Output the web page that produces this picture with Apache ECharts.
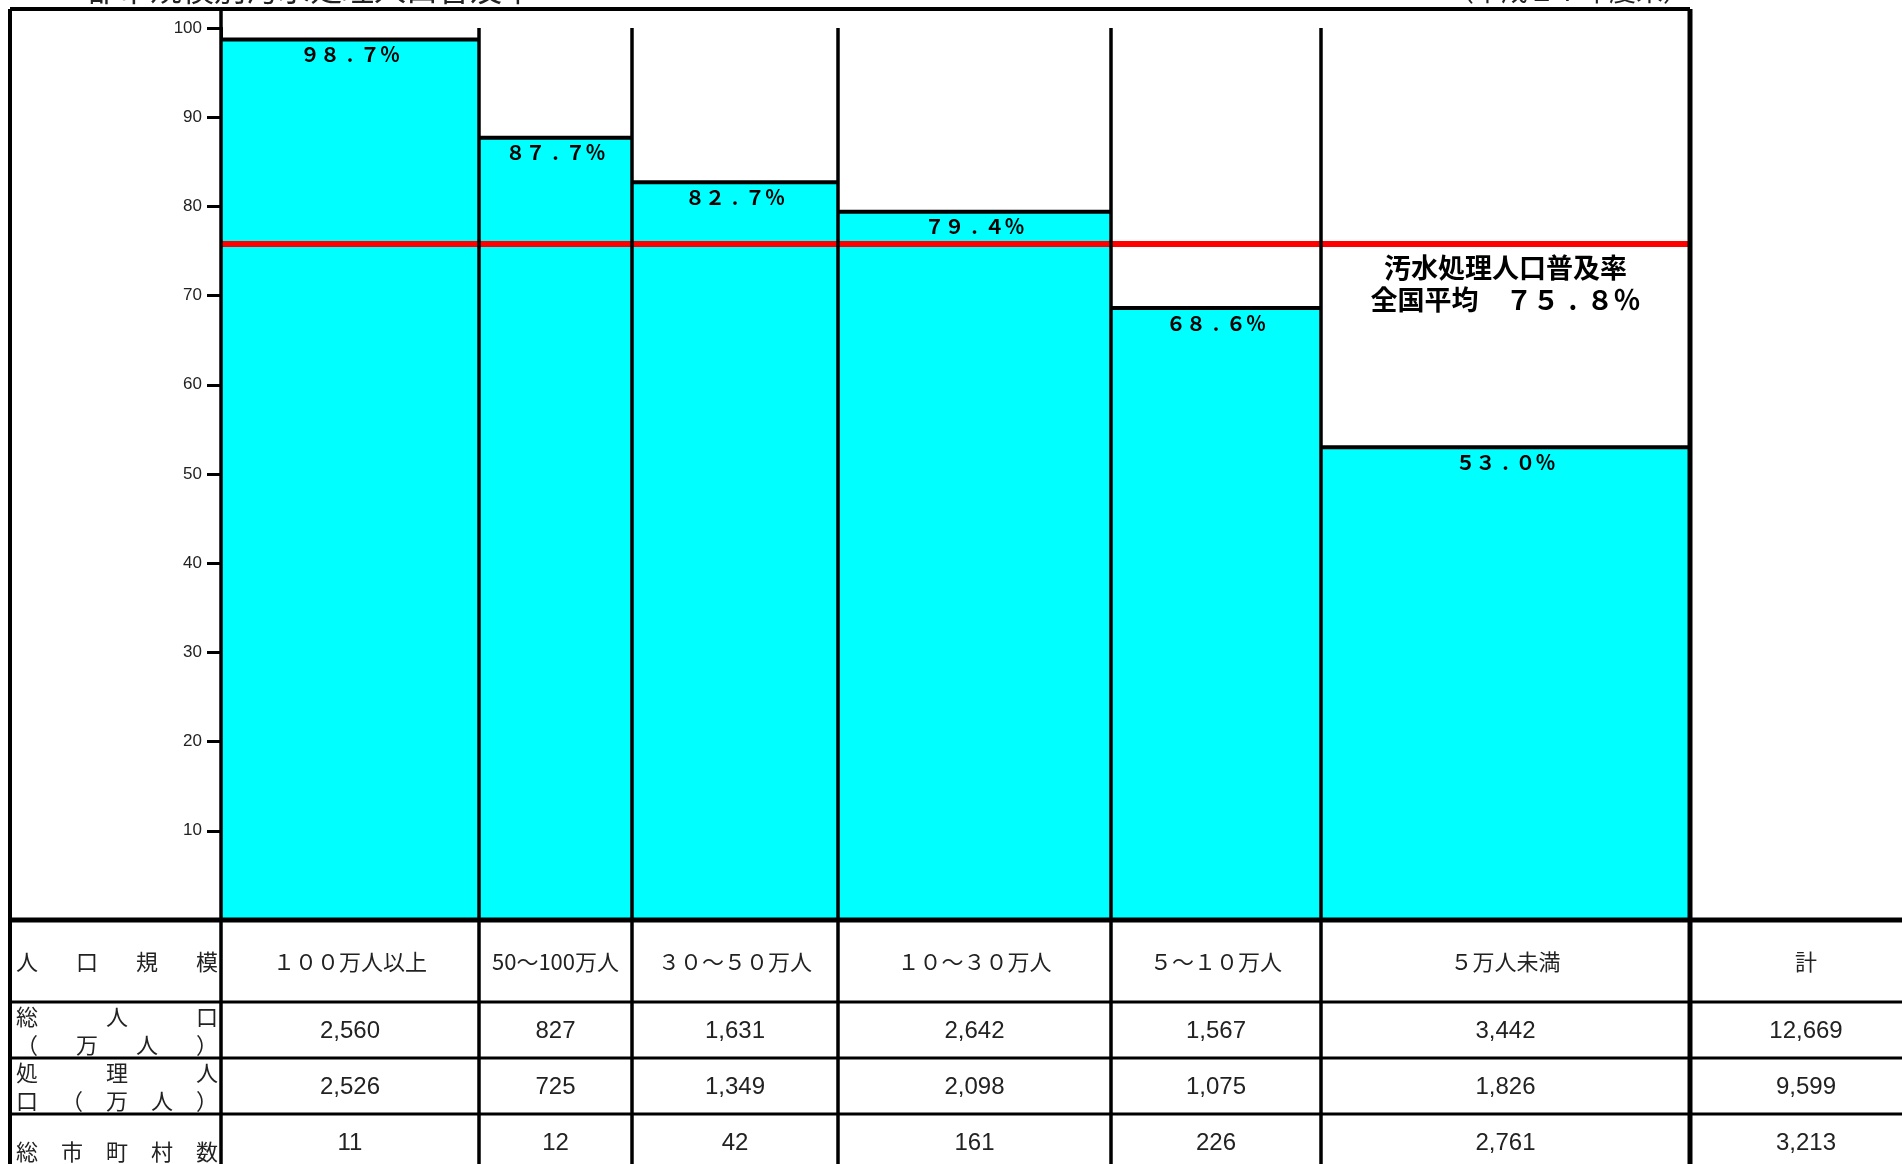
<!DOCTYPE html>
<html>
<head>
<meta charset="utf-8">
<title>都市規模別汚水処理人口普及率</title>
<script src="https://cdn.jsdelivr.net/npm/echarts@6/dist/echarts.min.js"></script>
<style>
  html, body { margin: 0; padding: 0; background: #fff; }
  #main { width: 1902px; height: 1164px; }
</style>
</head>
<body>
<div id="main"></div>
<script>
// 人口規模ごとの数値（平成17年度末）
const sizeLabels = ['１００万人以上', '50～100万人', '３０～５０万人', '１０～３０万人', '５～１０万人', '５万人未満', '計'];
const rates = [98.7, 87.7, 82.7, 79.4, 68.6, 53.0];
const avgRate = 75.8;
const totalPop = [2560, 827, 1631, 2642, 1567, 3442, 12669];
const servedPop = [2526, 725, 1349, 2098, 1075, 1826, 9599];
const municipalities = [11, 12, 42, 161, 226, 2761, 3213];
const yTicks = [0, 10, 20, 30, 40, 50, 60, 70, 80, 90, 100];

// 表の行見出し（1行または2行）
const rowHeads = [
  ['人口規模'],
  ['総人口', '（万人）'],
  ['処理人', '口（万人）'],
  ['総市町村数']
];

// レイアウト（列の幅はピクセル相当の単位）
const colWidths = [258, 153, 206, 273, 210, 369];
const totalColWidth = 232;

const CJK = '"Noto Sans CJK JP", "Noto Sans CJK SC", sans-serif';
const NUM = '"Liberation Sans", Arial, sans-serif';

function toFull(s) {
  return String(s).replace(/[0-9]/g, c => String.fromCharCode(c.charCodeAt(0) + 0xFEE0));
}
// 小数点を中央に置いた全角風のパーセント表記（rich text）
function pctRich(v) {
  const parts = v.toFixed(1).split('.');
  return '{d|' + toFull(parts[0]) + '}{p|.}{d|' + toFull(parts[1]) + '％}';
}
function pctStyles(size) {
  const font = 'bold ' + size + 'px ' + CJK;
  return {
    d: { font: font, fill: '#000' },
    p: { font: font, fill: '#000', width: size, align: 'center' }
  };
}
function fmt(n) {
  return n.toLocaleString('en-US');
}

// 各棒の x 範囲
const edges = [0];
colWidths.forEach(w => edges.push(edges[edges.length - 1] + w));
const barData = rates.map((r, i) => [edges[i], edges[i + 1], r]);
const xMax = edges[edges.length - 1];

const chart = echarts.init(document.getElementById('main'));

function renderBar(params, api) {
  const x0 = api.value(0), x1 = api.value(1), v = api.value(2);
  const tl = api.coord([x0, v]);
  const br = api.coord([x1, 0]);
  const cx = (tl[0] + br[0]) / 2;
  return {
    type: 'group',
    children: [
      { type: 'rect', shape: { x: tl[0], y: tl[1], width: br[0] - tl[0], height: br[1] - tl[1] }, style: { fill: '#00ffff' } },
      { type: 'line', shape: { x1: tl[0], y1: tl[1], x2: br[0], y2: tl[1] }, style: { stroke: '#000', lineWidth: 4 } },
      {
        type: 'text', z2: 10,
        style: {
          text: pctRich(v), rich: pctStyles(20), x: cx, y: tl[1] + 15,
          align: 'center', verticalAlign: 'middle', font: 'bold 20px ' + CJK, fill: '#000'
        }
      }
    ]
  };
}

chart.setOption({
  animation: false,
  backgroundColor: '#fff',
  grid: { left: 221, top: 28, width: 1469, height: 892 },
  xAxis: {
    type: 'value', min: 0, max: xMax, position: 'top',
    axisLine: { show: true, lineStyle: { color: '#000', width: 3 } },
    axisTick: { show: false }, axisLabel: { show: false }, splitLine: { show: false }
  },
  yAxis: {
    type: 'value', min: 0, max: 100, interval: 10,
    axisLine: { show: true, lineStyle: { color: '#000', width: 3 } },
    axisTick: { show: true, length: 14, lineStyle: { color: '#000', width: 3 } },
    axisLabel: {
      margin: 19, fontSize: 17, color: '#222', fontFamily: NUM,
      formatter: v => (v === 0 || yTicks.indexOf(v) < 0) ? '' : String(v)
    },
    splitLine: { show: false }
  },
  series: [{
    type: 'custom',
    renderItem: renderBar,
    data: barData,
    encode: { x: [0, 1], y: 2 },
    markLine: {
      silent: true, symbol: 'none', z: 5,
      label: { show: false },
      lineStyle: { color: '#ff0000', width: 6, type: 'solid' },
      data: [{ yAxis: avgRate }]
    }
  }]
});

// 表と枠
const px = v => chart.convertToPixel({ xAxisIndex: 0 }, v);
const py = v => chart.convertToPixel({ yAxisIndex: 0 }, v);
const xs = edges.map(px);
xs.push(px(xMax + totalColWidth));
const y0 = py(0);
const y100 = py(100);
const yAvg = py(avgRate);
const rowHeights = [82, 56, 56, 56];
const rowY = [y0];
rowHeights.forEach(h => rowY.push(rowY[rowY.length - 1] + h));
const leftX = 10, topY = 9, bottomY = 1170;

const g = [];
function line(x1, y1, x2, y2, w) {
  g.push({ type: 'line', z: 20, shape: { x1, y1, x2, y2 }, style: { stroke: '#000', lineWidth: w } });
}
function text(t, x, y, font, align) {
  g.push({
    type: 'text', z: 21,
    style: { text: t, x, y, font, fill: '#222', align: align || 'center', verticalAlign: 'middle' }
  });
}

// タイトル（上端で切れている）
text('都市規模別汚水処理人口普及率', 86, -11, '32px ' + CJK, 'left');
text('（平成１７年度末）', xs[6], -9, '27px ' + CJK, 'right');

// 外枠
line(leftX, topY, xs[6], topY, 4);
line(leftX, topY, leftX, bottomY, 4);
line(xs[6], topY, xs[6], bottomY, 5);
line(xs[0], topY, xs[0], bottomY, 3.5);
// 列の区切り線（グラフ部分から表まで）
for (let c = 1; c < 6; c++) line(xs[c], y100, xs[c], bottomY, 3.5);

// 表の横線
line(leftX, rowY[0], 1910, rowY[0], 5);
for (let r = 1; r < rowY.length; r++) line(leftX, rowY[r], 1910, rowY[r], 3);

// 行見出し（均等割付）
function spread(str, y) {
  const chars = Array.from(str);
  const n = chars.length;
  const step = (196 - 16) / (n - 1);
  chars.forEach((ch, i) => text(ch, 16 + 11 + i * step, y, '22px ' + CJK));
}
const mid = r => (rowY[r] + rowY[r + 1]) / 2;
spread(rowHeads[0][0], mid(0) + 1);
spread(rowHeads[1][0], mid(1) - 13);
spread(rowHeads[1][1], mid(1) + 15);
spread(rowHeads[2][0], mid(2) - 13);
spread(rowHeads[2][1], mid(2) + 15);
spread(rowHeads[3][0], rowY[3] + 38);

// 表の中身
const rowsData = [totalPop, servedPop, municipalities];
sizeLabels.forEach((lab, c) => {
  const cx = (xs[c] + xs[c + 1]) / 2;
  text(lab, cx, mid(0) + 1, '22px ' + CJK);
  rowsData.forEach((arr, r) => {
    text(fmt(arr[c]), cx, mid(r + 1) + 1, '24px ' + NUM);
  });
});

// 全国平均の注記
const avgCx = (xs[5] + xs[6]) / 2;
const avgFont = 'bold 27px ' + CJK;
const avgRich = pctStyles(27);
avgRich.t = { font: avgFont, fill: '#000' };
g.push({
  type: 'text', z: 21,
  style: {
    text: '{t|汚水処理人口普及率}\n{t|全国平均　}' + pctRich(avgRate),
    rich: avgRich,
    x: avgCx, y: yAvg + 8, align: 'center', verticalAlign: 'top',
    font: avgFont, lineHeight: 32, fill: '#000'
  }
});

chart.setOption({ graphic: g });
</script>
</body>
</html>
